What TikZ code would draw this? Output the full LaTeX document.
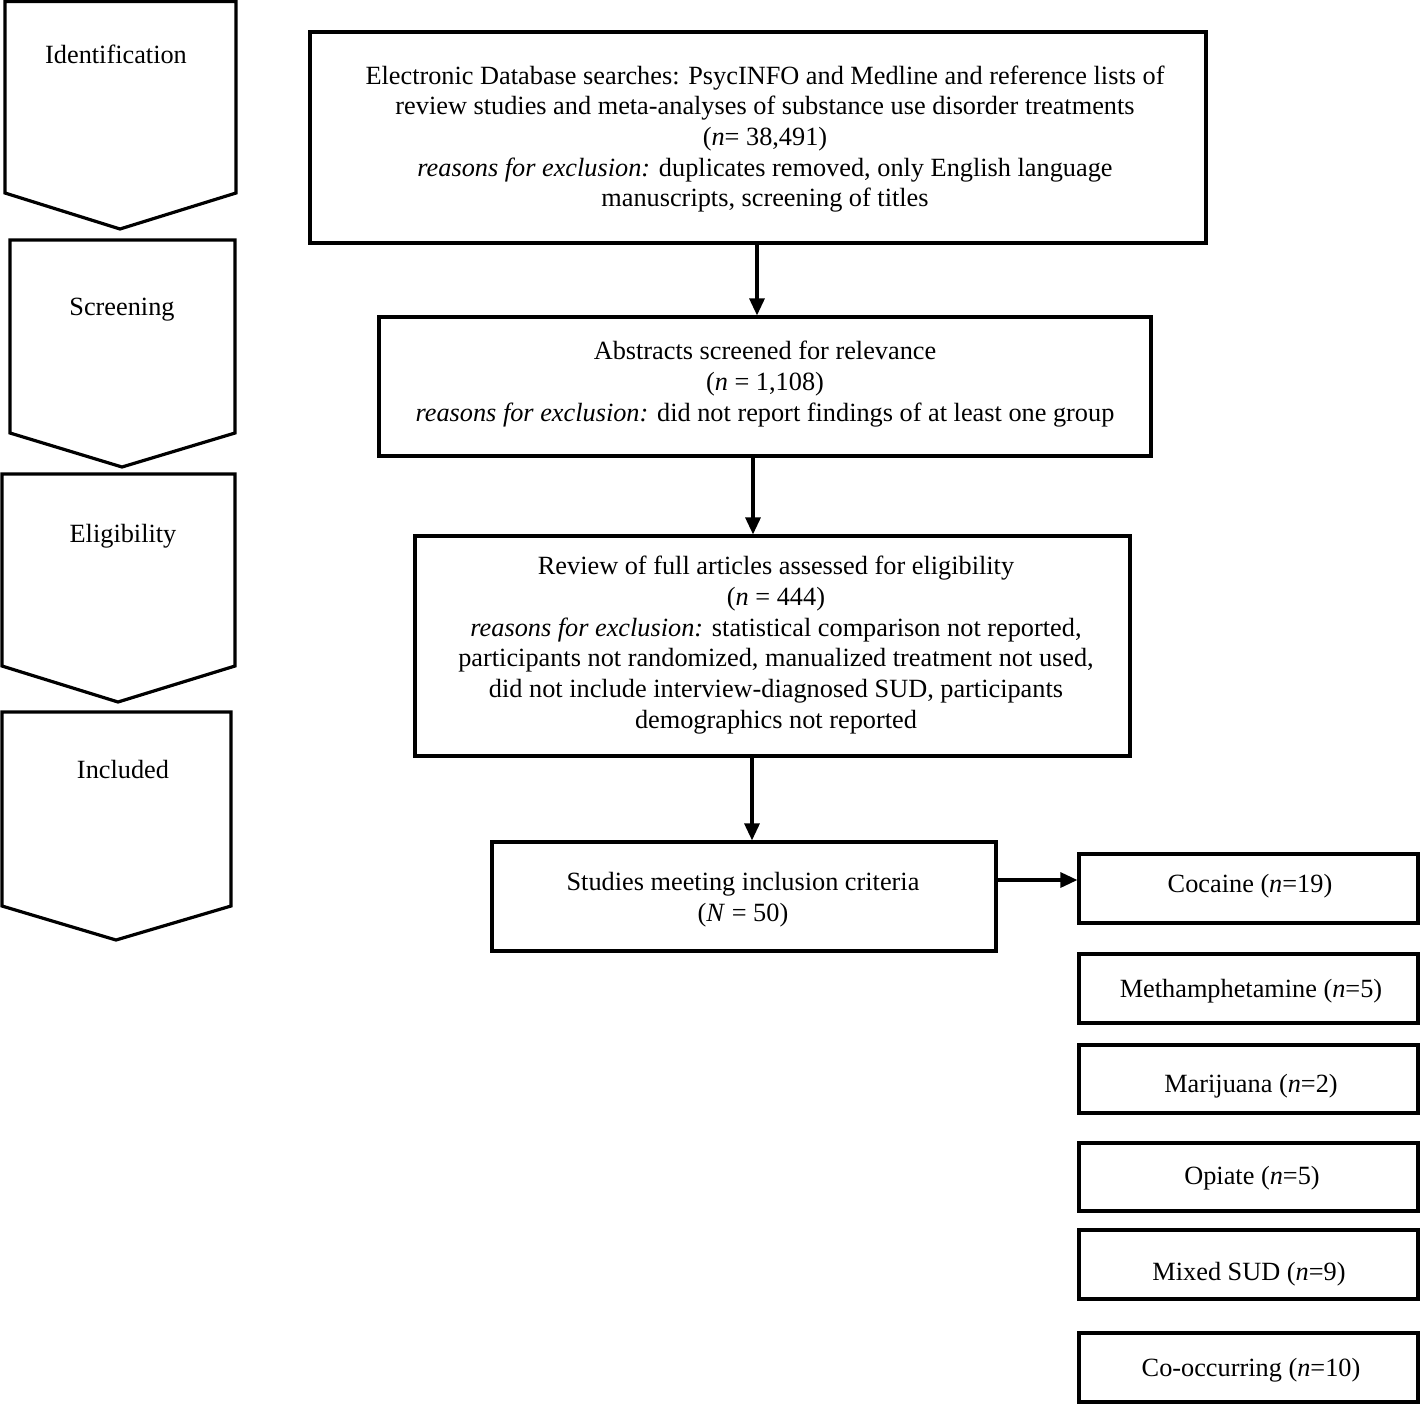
\documentclass[tikz,border=0pt]{standalone}
\usepackage{fontspec}
\setmainfont{Liberation Serif}
\usetikzlibrary{arrows.meta}
\begin{document}
\begin{tikzpicture}[x=1pt,y=-1pt,
  every node/.style={font=\fontsize{26.3}{30.7}\selectfont, inner sep=0pt, align=center},
  box/.style={draw, line width=3.2pt, rectangle},
  phase/.style={draw, line width=3.2pt, line join=miter},
  conn/.style={line width=3.2pt, -{Triangle[length=17pt,width=15pt]}}]
\useasboundingbox (0,0) rectangle (1420,1405);
% phase chevrons
\draw[phase] (5,1.5) -- (236,1.5) -- (236,193) -- (120,229) -- (5,193) -- cycle;
\node (pid) at (116,54) {Identification};
\draw[phase] (10,240) -- (235,240) -- (235,433) -- (122,467) -- (10,433) -- cycle;
\node (psc) at (122,310) {Screening};
\draw[phase] (2,474) -- (235,474) -- (235,666) -- (118,702) -- (2,666) -- cycle;
\node (pel) at (123,536) {Eligibility};
\draw[phase] (2,712) -- (231,712) -- (231,906) -- (116,940) -- (2,906) -- cycle;
\node (pin) at (123,769) {Included};
% main boxes
\node[box, minimum width=896pt, minimum height=211pt] (b1) at (758,137.5) {};
\node (t1) at (765,139)
 {Electronic Database searches: PsycINFO and Medline and reference lists of\\
  review studies and meta-analyses of substance use disorder treatments\\
  (\textit{n}= 38,491)\\
  \textit{reasons for exclusion:} duplicates removed, only English language\\
  manuscripts, screening of titles};
\node[box, minimum width=772pt, minimum height=139pt] (b2) at (765,386.5) {};
\node (t2) at (765,384)
 {Abstracts screened for relevance\\
  (\textit{n} = 1,108)\\
  \textit{reasons for exclusion:} did not report findings of at least one group};
\node[box, minimum width=715pt, minimum height=220pt] (b3) at (772.5,646) {};
\node (t3) at (776,645)
 {Review of full articles assessed for eligibility\\
  (\textit{n} = 444)\\
  \textit{reasons for exclusion:} statistical comparison not reported,\\
  participants not randomized, manualized treatment not used,\\
  did not include interview-diagnosed SUD, participants\\
  demographics not reported};
\node[box, minimum width=504pt, minimum height=109pt] (b4) at (744,896.5) {};
\node (t4) at (743,900)
 {Studies meeting inclusion criteria\\(\textit{N} = 50)};
% substance boxes
\node[box, minimum width=339pt, minimum height=69pt] (s1) at (1248.5,888.5) {};
\node (t s1) at (1250,886) {Cocaine (\textit{n}=19)};
\node[box, minimum width=339pt, minimum height=69pt] (s2) at (1248.5,988.5) {};
\node (t s2) at (1251,991) {Methamphetamine (\textit{n}=5)};
\node[box, minimum width=339pt, minimum height=68pt] (s3) at (1248.5,1079) {};
\node (t s3) at (1251,1086) {Marijuana (\textit{n}=2)};
\node[box, minimum width=339pt, minimum height=68pt] (s4) at (1248.5,1177) {};
\node (t s4) at (1252,1178) {Opiate (\textit{n}=5)};
\node[box, minimum width=339pt, minimum height=69pt] (s5) at (1248.5,1264.5) {};
\node (t s5) at (1249,1274) {Mixed SUD (\textit{n}=9)};
\node[box, minimum width=339pt, minimum height=69pt] (s6) at (1248.5,1367.5) {};
\node (t s6) at (1251,1370) {Co-occurring (\textit{n}=10)};
% connectors
\draw[conn] (b1.south -| 757,0) -- (b2.north -| 757,0);
\draw[conn] (b2.south -| 753,0) -- (b3.north -| 753,0);
\draw[conn] (b3.south -| 752,0) -- (b4.north -| 752,0);
\draw[conn] (b4.east |- 0,880) -- (s1.west |- 0,880);
\end{tikzpicture}
\end{document}
